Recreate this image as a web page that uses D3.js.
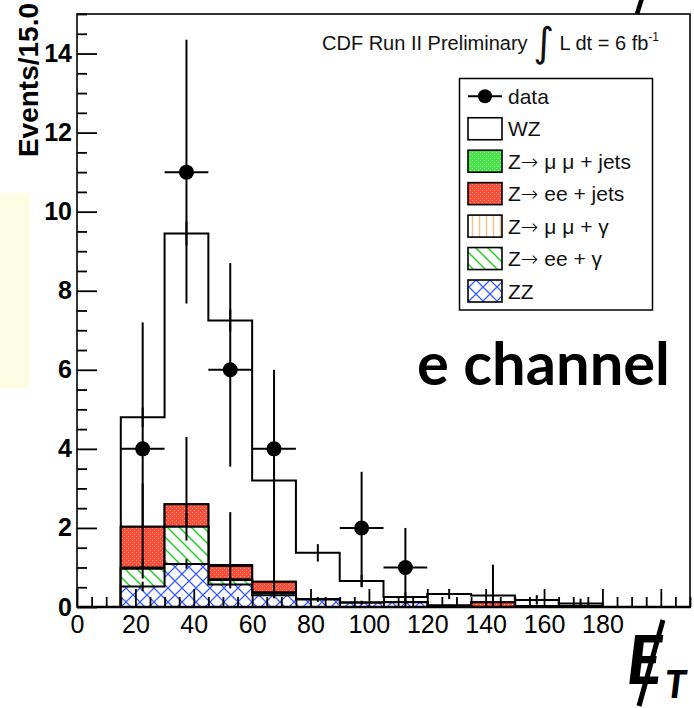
<!DOCTYPE html>
<html><head><meta charset="utf-8">
<script src="https://cdn.jsdelivr.net/npm/d3@7"></script>
<style>body{margin:0;background:#fff;} svg{display:block;}</style>
</head><body>
<script>
// ---- data ----
const binEdges = [15,30,45,60,75,90,105,120,135,150,165,180];
const wz       = [2.77,6.85,6.19,2.56,1.18,0.55,0.13,0.30,0.17,0.17,0.08];
const zmmJets  = [0,0,0.02,0,0,0,0,0,0,0,0];
const zeeJets  = [1.03,0.57,0.34,0.27,0,0,0,0,0.12,0,0];
const zmmGamma = [0.03,0,0.02,0.02,0,0,0,0,0,0,0];
const zeeGamma = [0.45,0.94,0.11,0.05,0,0,0,0,0,0,0];
const zz       = [0.52,1.09,0.57,0.30,0.19,0.11,0.12,0.03,0,0.01,0.01];
const wzErr       = [0.25,0.3,0.28,0.22,0.22,0.15,0.12,0.13,0.1,0.12,0.12];
const zeeJetsErr  = [1.1,1.7,1.36,1.4,0,0,0,0,0.95,0,0];
const zeeGammaErr = [0.25,0.35,0.1,0.05,0,0,0,0,0,0,0];
const zzErr       = [0.12,0.12,0.1,0.08,0.06,0.05,0.05,0.03,0,0.02,0.02];
const noErr       = [0,0,0,0,0,0,0,0,0,0,0];
const dataX       = [22.5,37.5,52.5,67.5,97.5,112.5];
const dataY       = [4,11,6,4,2,1];
const dataErrUp   = [3.2,3.35,2.7,2.0,1.42,1.0];
const dataErrDown = [2.0,3.32,2.45,2.0,1.5,1.0];
const xMajorTicks = [0,20,40,60,80,100,120,140,160,180,200];
const xTickLabels = ["0","20","40","60","80","100","120","140","160","180",""];
const yMajorTicks = [0,2,4,6,8,10,12,14];
// legend labels: [prefix with arrow?, rest]
const legendLabels = [["","data"],["","WZ"],["Z"," \u03bc \u03bc + jets"],["Z"," ee + jets"],["Z"," \u03bc \u03bc + \u03b3"],["Z"," ee + \u03b3"],["","ZZ"]];

const W=694,H=708;
const svg = d3.select("body").append("svg").attr("width",W).attr("height",H);
svg.append("rect").attr("width",W).attr("height",H).attr("fill","#fff");
svg.append("rect").attr("x",0).attr("y",193).attr("width",30).attr("height",195).attr("fill","#fdfde4");

const x = d3.scaleLinear().domain([0,210]).range([77,690]);
const y = d3.scaleLinear().domain([0,15]).range([607,14]);

// ---- patterns ----
const defs = svg.append("defs");
function pat(id,w,h,build){const p=defs.append("pattern").attr("id",id).attr("patternUnits","userSpaceOnUse").attr("width",w).attr("height",h);build(p);}
pat("pZZ",14,14,p=>{p.append("rect").attr("width",14).attr("height",14).attr("fill","#fff");
  p.append("path").attr("d","M0,0L14,14M0,14L14,0").attr("stroke","#3a5cff").attr("stroke-width",1.3);});
pat("pEEG",12,12,p=>{p.append("rect").attr("width",12).attr("height",12).attr("fill","#fff");
  p.append("path").attr("d","M0,0L12,12M-2,10L2,14M10,-2L14,2").attr("stroke","#22d022").attr("stroke-width",1.5);});
pat("pMMG",7,7,p=>{p.append("rect").attr("width",7).attr("height",7).attr("fill","#fff");
  p.append("path").attr("d","M3.5,0L3.5,7").attr("stroke","#f0c48c").attr("stroke-width",1.5);});
pat("pEEJ",4,4,p=>{p.append("rect").attr("width",4).attr("height",4).attr("fill","#ff4a36");
  p.append("rect").attr("x",0).attr("y",0).attr("width",1).attr("height",1).attr("fill","#ffb0a0");
  p.append("rect").attr("x",2).attr("y",2).attr("width",1).attr("height",1).attr("fill","#ffb0a0");});
pat("pMMJ",4,4,p=>{p.append("rect").attr("width",4).attr("height",4).attr("fill","#3ee83e");
  p.append("rect").attr("x",0).attr("y",0).attr("width",1).attr("height",1).attr("fill","#e0ffe0");
  p.append("rect").attr("x",2).attr("y",2).attr("width",1).attr("height",1).attr("fill","#e0ffe0");});

const layers = [
  {values:wz, err:wzErr, fill:"#fff"},
  {values:zmmJets, err:noErr, fill:"url(#pMMJ)"},
  {values:zeeJets, err:zeeJetsErr, fill:"url(#pEEJ)"},
  {values:zmmGamma, err:noErr, fill:"url(#pMMG)"},
  {values:zeeGamma, err:zeeGammaErr, fill:"url(#pEEG)"},
  {values:zz, err:zzErr, fill:"url(#pZZ)"}
];
const nb = binEdges.length-1;
layers.forEach((L,i)=>{
  L.cum = d3.range(nb).map(b=>d3.sum(layers.slice(i),l=>l.values[b]));
});
const area = d3.area().x(d=>x(d.e)).y0(y(0)).y1(d=>y(d.v)).curve(d3.curveStepAfter);
const gh = svg.append("g");
layers.forEach(L=>{
  const pts = binEdges.map((e,k)=>({e, v: L.cum[Math.min(k,nb-1)]}));
  gh.append("path").attr("d",area(pts)).attr("fill",L.fill).attr("stroke","#000").attr("stroke-width",2);
  L.cum.forEach((c,b)=>{
    if(!L.err[b]) return;
    const cx = x((binEdges[b]+binEdges[b+1])/2);
    gh.append("line").attr("x1",cx).attr("x2",cx)
      .attr("y1",y(Math.max(0,c-L.err[b]))).attr("y2",y(c+L.err[b]))
      .attr("stroke","#000").attr("stroke-width",2);
  });
});

// ---- axes ----
const fontS = "'Liberation Sans', Arial, Helvetica, sans-serif";
const xMinor = d3.range(0,211,5).filter(v=>v%20!==0);
const yMinor = d3.range(0,15.01,0.5).filter(v=>v%2!==0);
const gxm = svg.append("g").attr("transform",`translate(0,${y(0)})`)
  .call(d3.axisBottom(x).tickValues(xMinor).tickSize(-10).tickFormat(""));
const gx = svg.append("g").attr("transform",`translate(0,${y(0)})`)
  .call(d3.axisBottom(x).tickValues(xMajorTicks).tickSize(-18).tickPadding(8).tickFormat((d,i)=>xTickLabels[i]));
const gym = svg.append("g").attr("transform",`translate(${x(0)},0)`)
  .call(d3.axisLeft(y).tickValues(yMinor).tickSize(-10).tickFormat(""));
const gy = svg.append("g").attr("transform",`translate(${x(0)},0)`)
  .call(d3.axisLeft(y).tickValues(yMajorTicks).tickSize(-20).tickPadding(5).tickFormat(d3.format("d")));
[gxm,gx,gym,gy].forEach(g=>{g.select(".domain").remove(); g.selectAll(".tick line").attr("stroke","#000").attr("stroke-width",1.8);});
gx.selectAll("text").attr("font-family",fontS).attr("font-size",25).attr("fill","#000");
gy.selectAll("text").attr("font-family",fontS).attr("font-size",25).attr("font-weight","bold").attr("fill","#000");

// frame
svg.append("rect").attr("x",x(0)).attr("y",y(15)).attr("width",x(210)-x(0)).attr("height",y(0)-y(15))
  .attr("fill","none").attr("stroke","#000").attr("stroke-width",1.6);
svg.append("line").attr("x1",x(0)).attr("x2",x(210)+1).attr("y1",y(0)).attr("y2",y(0)).attr("stroke","#000").attr("stroke-width",2.5);

// ---- data ----
const gd = svg.append("g");
dataX.forEach((dx,i)=>{
  const cx=x(dx), cy=y(dataY[i]);
  gd.append("line").attr("x1",cx).attr("x2",cx).attr("y1",y(dataY[i]-dataErrDown[i])).attr("y2",y(dataY[i]+dataErrUp[i])).attr("stroke","#000").attr("stroke-width",2);
  gd.append("line").attr("x1",x(dx-7.5)).attr("x2",x(dx+7.5)).attr("y1",cy).attr("y2",cy).attr("stroke","#000").attr("stroke-width",2);
  gd.append("circle").attr("cx",cx).attr("cy",cy).attr("r",7.5).attr("fill","#000");
});

// y label
svg.append("text").attr("transform","translate(38,3) rotate(-90)").attr("text-anchor","end")
  .attr("font-family",fontS).attr("font-weight","bold").attr("font-size",28).text("Events/15.0");

// title
const tt = svg.append("text").attr("x",322).attr("y",50).attr("font-family",fontS).attr("font-size",20).attr("fill","#111");
tt.append("tspan").text("CDF Run II Preliminary ");
tt.append("tspan").attr("font-family","'DejaVu Sans'").attr("font-size",40).attr("dy",6).text("\u222B");
tt.append("tspan").attr("dy",-6).text(" L dt = 6 fb");
tt.append("tspan").attr("font-size",12).attr("dy",-9).text("-1");

// legend
const lg = svg.append("g");
lg.append("rect").attr("x",459.5).attr("y",78.5).attr("width",193).attr("height",231.5).attr("fill","#fff").attr("stroke","#000").attr("stroke-width",1.5);
const fills = [null,"#fff","url(#pMMJ)","url(#pEEJ)","url(#pMMG)","url(#pEEG)","url(#pZZ)"];
legendLabels.forEach((lab,i)=>{
  const cy = 96.3 + i*32.45;
  if(i===0){
    lg.append("line").attr("x1",468).attr("x2",502).attr("y1",cy).attr("y2",cy).attr("stroke","#000").attr("stroke-width",2);
    lg.append("circle").attr("cx",485).attr("cy",cy).attr("r",7).attr("fill","#000");
  } else {
    lg.append("rect").attr("x",468).attr("y",cy-11).attr("width",34).attr("height",22).attr("fill",fills[i]).attr("stroke","#000").attr("stroke-width",1.6);
  }
  const t = lg.append("text").attr("x",508).attr("y",cy).attr("dy","0.36em").attr("font-family",fontS).attr("font-size",21).attr("fill","#111");
  if(lab[0]){
    t.append("tspan").text(lab[0]);
    t.append("tspan").attr("font-family","'DejaVu Sans'").attr("font-size",21).attr("font-weight","200").text("\u2192");
  }
  t.append("tspan").text(lab[1]);
});

// e channel
const ec = svg.append("text").attr("x",417).attr("y",385).attr("font-family","Lato, 'Open Sans', sans-serif").attr("font-weight","bold").attr("font-size",50).attr("fill","#000").text("e channel");
const ecw = ec.node().getComputedTextLength();
ec.attr("font-size",50*253/ecw);

// MET symbol
const met = svg.append("g");
met.append("text").attr("x",627).attr("y",684).attr("font-family","Lato, sans-serif").attr("font-weight","900").attr("font-style","italic").attr("font-size",66).text("E");
met.append("line").attr("x1",663).attr("y1",620).attr("x2",639).attr("y2",706).attr("stroke","#000").attr("stroke-width",5);
met.append("text").attr("x",665).attr("y",698).attr("font-family","Lato, sans-serif").attr("font-weight","900").attr("font-style","italic").attr("font-size",38).text("T");
// cropped slash from above
svg.append("line").attr("x1",642).attr("y1",-2).attr("x2",637).attr("y2",14).attr("stroke","#000").attr("stroke-width",4.5);
</script>
</body></html>
